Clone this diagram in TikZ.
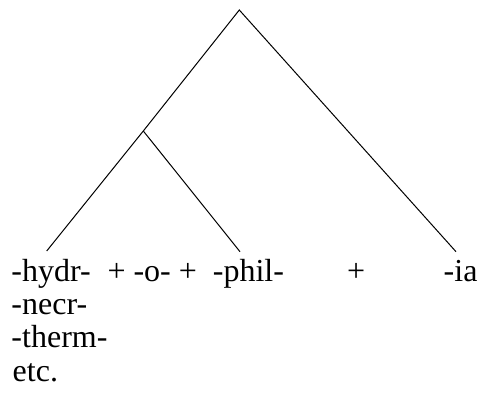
\documentclass[tikz,border=0pt]{standalone}
\usepackage{fontspec}
\setmainfont{Liberation Serif}
\begin{document}
\begin{tikzpicture}[x=1pt,y=1pt,
  word/.style={anchor=base west,inner sep=0pt,outer sep=0pt,font=\fontsize{32}{33}\selectfont},
  branch/.style={line width=1pt,black}]
\useasboundingbox (0,0) rectangle (479,392);
% tree points
\coordinate (root) at (239.3,382);
\coordinate (mid) at (143.3,261);
\coordinate (lA) at (46.7,141);
\coordinate (lB) at (240,140.3);
\coordinate (lC) at (456,140.3);
\draw[branch] (lA) -- (mid) -- (root) -- (lC);
\draw[branch] (mid) -- (lB);
% labels
\node[word] (hydr) at (11.5,110.3) {-hydr-};
\node[word] (plusA) at (107.5,110.3) {+};
\node[word] (o) at (133.5,110.3) {-o-};
\node[word] (plusB) at (178.9,110.3) {+};
\node[word] (phil) at (212.9,110.3) {-phil-};
\node[word] (plusC) at (347,110.3) {+};
\node[word] (ia) at (443.7,110.3) {-ia};
\node[word] (necr) at (11.5,77.3) {-necr-};
\node[word] (therm) at (11.5,44.3) {-therm-};
\node[word] (etc) at (12.7,11) {etc.};
\end{tikzpicture}
\end{document}
